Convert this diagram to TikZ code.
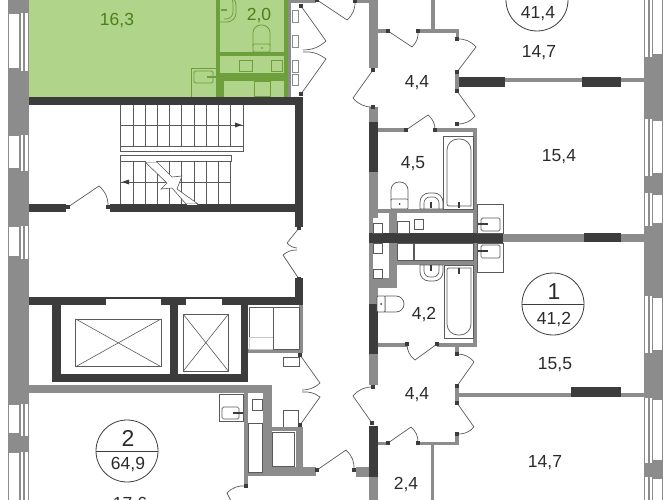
\documentclass[tikz,border=0pt]{standalone}
\usepackage{fontspec}
\setmainfont{Liberation Sans}
\definecolor{W1}{HTML}{8C8C8C}
\definecolor{W2}{HTML}{3C3C3C}
\definecolor{G1}{HTML}{B0D48A}
\definecolor{G2}{HTML}{6E9F3D}
\definecolor{G3}{HTML}{4C7F1A}
\definecolor{F1}{HTML}{5A5A5A}
\definecolor{T1}{HTML}{2A2A2A}
\begin{document}
\begin{tikzpicture}[x=1pt,y=-1pt]
\tikzstyle{gn} = [fill=G2]
\tikzstyle{f} = [draw=F1,line width=.7pt,fill=white]
\tikzstyle{fg} = [draw=G2,line width=.8pt,fill=G1]
\tikzstyle{st} = [draw=F1,line width=.6pt]
\tikzstyle{lb} = [inner sep=0pt,text=T1,text depth=0pt,font=\fontsize{17.5}{20}\selectfont]
\tikzstyle{lg} = [inner sep=0pt,text=G3,text depth=0pt,font=\fontsize{17.5}{20}\selectfont]
\tikzstyle{nr} = [inner sep=0pt,text=T1,text depth=0pt,font=\fontsize{23}{24}\selectfont]
\tikzstyle{flat} = [draw=W2,circle,line width=.8pt,inner sep=0pt,minimum size=62pt]
\tikzstyle{leaf} = [draw=F1,line width=.7pt]
\def\dot#1{\fill[W2] #1 +(-1.8,-1.8) rectangle +(1.8,1.8);}
\def\door#1#2#3#4{
\draw[leaf] #1 -- #2 to[#4] #3;
\dot{#1}
\dot{#3}
}
% double doors meet with no end post
\def\ddoor#1#2#3#4{
\draw[leaf] #1 -- #2 to[#4] #3;
\dot{#1}
}
\def\tap#1#2#3#4{\draw[W2,line width=1.4pt] (#1,#2) -- (#3,#4);}
\useasboundingbox (0,0) rectangle (672,500);
\clip (0,0) rectangle (672,500);
% green flat
\fill[G1] (29,0) rectangle (288,97);
\fill[gn] (216,0) rectangle (220,97);
\fill[gn] (284,0) rectangle (288,97);
\fill[W1] (288,0) rectangle (291,97);
\fill[gn] (220,52) rectangle (284,56);
\fill[gn] (220,73) rectangle (284,81);
\fill[gn] (220,81) rectangle (224,97);
\draw[fg] (239,60) rectangle (252,71);
\draw[fg] (271,60) rectangle (282,71);
\draw[fg] (254,81) rectangle (270,96);
\draw[fg] (191,97) -- (191,68) -- (216,68);
\draw[fg,rounded corners=1.5pt] (194,71) rectangle (213,83);
\draw[G2,line width=1.4pt] (207,77) -- (216,77);
\draw[fg] (220,-4) [rounded corners=9pt] -- (236,-4) -- (236,22) [sharp corners] -- (220,22);
\draw[G2,line width=.7pt] (224,-4) [rounded corners=7pt] -- (233,-4) -- (233,19) [sharp corners] -- (224,19);
\draw[G2,line width=1.4pt] (221,10) -- (227,10);
\draw[fg] (253,46) [rounded corners=8pt] -- (253,25) -- (270,25) [sharp corners] -- (270,46) -- cycle;
\draw[fg,rounded corners=1pt] (253,44) rectangle (270,52);
\fill[G2] (262,48) circle (1pt);
% outer walls
\fill[W1] (8,0) rectangle (29,500);
\fill[W1] (644,0) rectangle (663,500);
\foreach \a/\b in {13/71,135/171,226/259,404/436,452/510}{
\fill[white] (9,\a+1) rectangle (19,\b-3);
\fill[white] (20.5,\a) rectangle (23,\b);
\fill[white] (24.5,\a) rectangle (28,\b);
\draw[W1,line width=.7pt] (8.5,\a) -- (8.5,\b);
}
\foreach \a/\b in {-10/57,119/176,193/226,296/353,398/463,477/510}{
\fill[white] (645,\a) rectangle (648,\b);
\fill[white] (650,\a) rectangle (652,\b);
\fill[white] (653,\a+2) rectangle (662,\b-3);
}
% stairs
\fill[W2] (29,97) rectangle (303,105);
\fill[W2] (295,97) rectangle (303,227);
\fill[W2] (29,204) rectangle (66,212);
\fill[W2] (110,204) rectangle (296,212);
\foreach \i in {0,...,9}{
\draw[st] (120.7+12.2*\i,105) -- (120.7+12.2*\i,146);
\draw[st] (120.7+12.2*\i,161) -- (120.7+12.2*\i,204);
}
\draw[st] (243.5,105) -- (243.5,146);
\draw[st] (120.7,125) -- (243.5,125);
\draw[st] (120.7,182) -- (231,182);
\draw[st] (120.7,146) rectangle (243.5,151.5);
\draw[st] (120.7,155.5) rectangle (231,161);
\fill[W2] (242,125) -- (235,122.5) -- (235,127.5) -- cycle;
\fill[W2] (122,182) -- (129,179.5) -- (129,184.5) -- cycle;
\draw[st,fill=white] (145,162) -- (167,183) -- (161,189) -- (172,188) -- (186,204) -- (198,204) -- (177,189) -- (182,176) -- (172,177) -- (157,162) -- cycle;
\draw[white,line width=1pt] (146,162) -- (156,162);
\draw[white,line width=1pt] (187,204) -- (197,204);
% lifts
\fill[W2] (29,297) rectangle (303,305);
\fill[W2] (295,278) rectangle (303,305);
\fill[W2] (52,297) rectangle (248,382);
\fill[white] (61,305) rectangle (170,374);
\fill[white] (178,305) rectangle (241,374);
\fill[white] (106,298.5) rectangle (161,305);
\fill[white] (186,298.5) rectangle (222,305);
\draw[st] (75.7,319) rectangle (161,366.7);
\draw[st] (75.7,319) -- (161,366.7) (75.7,366.7) -- (161,319);
\draw[st] (183.3,314.3) rectangle (228.3,371);
\draw[st] (183.3,314.3) -- (228.3,371) (183.3,371) -- (228.3,314.3);
% service rooms
\fill[W1] (248,349) rectangle (303,353);
\fill[W1] (299,305) rectangle (303,353);
\draw[f] (249,307) rectangle (273,337);
\draw[f,draw=W1!50] (249,337) rectangle (273,349);
\draw[f] (273,307) rectangle (299,349);
\draw[f] (283,357) rectangle (299,366);
\draw[f] (283,410) rectangle (298,427);
\fill[W1] (29,385) rectangle (272,393);
\fill[W1] (263,385) rectangle (272,470);
\fill[W1] (245,467) rectangle (316,476);
\fill[W1] (272,427) rectangle (303,431);
\fill[W1] (296,431) rectangle (303,467);
\fill[W1] (243.5,393) rectangle (248,486);
\draw[f] (272,432) rectangle (294,466);
\draw[f] (248,423) rectangle (262,472);
\draw[f] (252,399) rectangle (262,410);
\draw[f] (219,394) rectangle (243,421);
\draw[f,rounded corners=1.5pt] (222,407) rectangle (239,419);
\tap{233}{413}{243}{413}
% right walls
\fill[W1] (355,0) rectangle (369,3);
\fill[W1] (290,0) rectangle (316,3);
\fill[W1] (369,0) rectangle (378,68);
\fill[W1] (369,107) rectangle (378,122);
\fill[W2] (369,122) rectangle (378,172);
\fill[W1] (369,172) rectangle (378,304);
\fill[W2] (369,304) rectangle (378,354);
\fill[W1] (369,354) rectangle (378,385);
\fill[W2] (369,426) rectangle (378,477);
\fill[W1] (369,477) rectangle (378,500);
\fill[W1] (356,467) rectangle (369,477);
\fill[W1] (431,0) rectangle (435,29);
\fill[W1] (378,29) rectangle (388,33);
\fill[W1] (418,29) rectangle (459,33);
\fill[W1] (456,33) rectangle (459,40);
\fill[W2] (455,77) rectangle (505,87);
\fill[W1] (505,78) rectangle (644,82);
\fill[W2] (582,77) rectangle (621,87);
\fill[W1] (455,70) rectangle (459,93);
\fill[W1] (378,128) rectangle (406,132);
\fill[W1] (435,128) rectangle (477,132);
\fill[W1] (473,128) rectangle (477,347);
\fill[W1] (378,209) rectangle (477,213);
\fill[W1] (389,209) rectangle (397,288);
\fill[W1] (373,278) rectangle (397,288);
\fill[white] (373,218) rectangle (389,278);
\fill[W1] (378,343) rectangle (407,347);
\fill[W1] (437,343) rectangle (477,347);
\fill[W1] (455,347) rectangle (459,355);
\fill[W1] (397,260) rectangle (477,265);
\fill[W1] (503,234) rectangle (644,242);
\fill[W2] (584,233) rectangle (621,242);
\fill[W2] (369,233) rectangle (503,243);
\fill[W1] (455,387) rectangle (459,403);
\fill[W1] (459,393) rectangle (644,397);
\fill[W2] (571,387) rectangle (621,397);
\fill[W1] (378,442) rectangle (388,445);
\fill[W1] (418,442) rectangle (459,445);
\fill[W1] (455,432) rectangle (459,445);
\fill[W1] (431,445) rectangle (434,500);
% baths
\draw[f] (373,223) rectangle (382,233);
\draw[f] (373,243) rectangle (382,253);
\draw[f] (373,269) rectangle (382,278);
\draw[f] (397,221) rectangle (409,233);
\draw[f] (414,219) rectangle (423,229);
\draw[f] (397,243) rectangle (413,260);
\draw[f] (414,243) rectangle (473,260);
\draw[f] (477,204) rectangle (503,233);
\draw[f] (477,243) rectangle (503,272);
\draw[f,rounded corners=1.5pt] (481,218) rectangle (500,231);
\draw[f,rounded corners=1.5pt] (481,245) rectangle (500,258);
\tap{478}{224}{488}{224}
\tap{478}{251}{488}{251}
\draw[f] (443,136) rectangle (473,209);
\draw[f] (447,206) [rounded corners=11pt] -- (447,139) -- (471,139) [sharp corners] -- (471,206) [rounded corners=2pt] -- cycle;
\tap{459}{202}{459}{208}
\draw[f] (420,209) [rounded corners=9pt] -- (420,193) -- (443,193) [sharp corners] -- (443,209) -- cycle;
\draw[st] (424,209) [rounded corners=6pt] -- (424,197) -- (439,197) [sharp corners] -- (439,209);
\tap{431}{202}{431}{208}
\draw[f] (391,200) [rounded corners=8pt] -- (391,182) -- (408,182) [sharp corners] -- (408,200) -- cycle;
\draw[f,rounded corners=1pt] (391,199) rectangle (408,209);
\fill[W2] (399.5,204) circle (1pt);
\draw[f] (444,265) rectangle (473,338);
\draw[f] (447,268) [rounded corners=11pt] -- (447,335) -- (471,335) [sharp corners] -- (471,268) [rounded corners=2pt] -- cycle;
\tap{459}{268}{459}{274}
\draw[f] (420,265) [rounded corners=9pt] -- (420,281) -- (443,281) [sharp corners] -- (443,265) -- cycle;
\draw[st] (424,265) [rounded corners=6pt] -- (424,277) -- (439,277) [sharp corners] -- (439,265);
\tap{431}{265}{431}{271}
\draw[f] (385,296) [rounded corners=8pt] -- (404,296) -- (404,312) [sharp corners] -- (385,312) -- cycle;
\draw[f,rounded corners=1pt] (377,296) rectangle (385,312);
\fill[W2] (381,304) circle (1pt);
% small boxes in corridor
\foreach \a/\b in {10/22,35/47,60/72,74/85}{
\draw[f,draw=F1!70] (292,\a) rectangle (298,\b);
}
% doors
\ddoor{(301,6)}{(326,41)}{(303,50)}{bend left=20}
\ddoor{(301,94)}{(326,59)}{(303,52)}{bend right=20}
\door{(317,0)}{(347,20)}{(355,1)}{bend right=25}
\door{(388,31)}{(412,47)}{(418,31)}{bend right=25}
\door{(457,72)}{(476,47)}{(457,39)}{bend right=25}
\door{(457,91)}{(475,116)}{(457,124)}{bend left=25}
\door{(406,130)}{(428,115)}{(435,130)}{bend left=25}
\door{(373,70)}{(353,98)}{(373,107)}{bend right=25}
\door{(68,207)}{(99,186)}{(108,207)}{bend left=25}
\ddoor{(299,228)}{(287,243)}{(297,248)}{bend right=20}
\ddoor{(299,279)}{(283,255)}{(297,250)}{bend left=20}
\ddoor{(300,355)}{(320,383)}{(302,390)}{bend left=20}
\ddoor{(300,425)}{(320,397)}{(302,392)}{bend right=20}
\door{(317,470)}{(346,450)}{(354,470)}{bend left=25}
\door{(232,503)}{(227,493)}{(246,486)}{bend left=25}
\door{(437,344)}{(415,360)}{(407,344)}{bend left=25}
\door{(457,386)}{(474,362)}{(457,354)}{bend right=25}
\door{(457,403)}{(474,427)}{(457,434)}{bend left=25}
\door{(372,423)}{(353,396)}{(373,387)}{bend left=25}
\door{(388,443)}{(411,427)}{(418,443)}{bend left=25}
% labels
\node[lg] (a16) at (117,19) {16,3};
\node[lg] (a2) at (259,14) {2,0};
\node[flat] (f3) at (537,0) {};
\node[lb] (t3) at (538,12) {41,4};
\node[lb] (r1) at (539,51) {14,7};
\node[lb] (r2) at (417,81) {4,4};
\node[lb] (r3) at (413,162) {4,5};
\node[lb] (r4) at (559,155) {15,4};
\node[flat] (f2) at (127,451) {};
\draw[W2,line width=.8pt] (f2.west) -- (f2.east);
\node[nr] (n2) at (128,438) {2};
\node[lb] (t2) at (128,463) {64,9};
\node[lb] (r5) at (130,503.5) {17,6};
\node[flat] (f1) at (553,304) {};
\draw[W2,line width=.8pt] (f1.west) -- (f1.east);
\node[nr] (n1) at (554,292) {1};
\node[lb] (t1) at (554,318) {41,2};
\node[lb] (r6) at (424,313) {4,2};
\node[lb] (r7) at (555,363) {15,5};
\node[lb] (r8) at (417,393) {4,4};
\node[lb] (r9) at (545,461) {14,7};
\node[lb] (r10) at (406,483) {2,4};
\end{tikzpicture}
\end{document}
